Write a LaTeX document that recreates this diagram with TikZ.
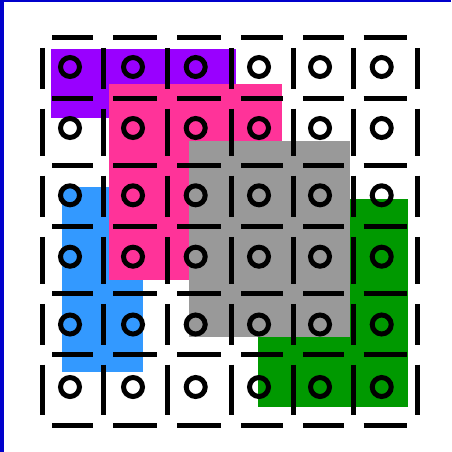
\documentclass[tikz,border=0pt]{standalone}
\definecolor{cadre}{HTML}{0000CC}
\definecolor{violette}{HTML}{9900FF}
\definecolor{rose}{HTML}{FF3399}
\definecolor{bleuclair}{HTML}{3399FF}
\definecolor{vert}{HTML}{009900}
\definecolor{gris}{HTML}{999999}
\begin{document}
\begin{tikzpicture}[
  x=1pt, y=-1pt,
  trait/.style={line width=5pt},
  rond/.style={circle, draw, line width=5pt, inner sep=0pt, minimum size=19pt},
]
\useasboundingbox (0,0) rectangle (451,452);
% le cadre (seulement a gauche et en haut)
\fill[cadre] (0,0) rectangle (4,452);
\fill[cadre] (0,0) rectangle (451,2);
% les zones de couleur, dans l'ordre
\fill[violette] (51,49) rectangle (236,118);
\fill[bleuclair] (62,186.7) rectangle (142.7,371.7);
\fill[rose] (109,84) rectangle (281.7,280);
\fill[vert] (257.7,199) rectangle (407.7,406.7);
\fill[gris] (189,140.7) rectangle (350,337.3);
% la grille en traits
\foreach \a/\b in {42/103, 103/167, 167/231, 231/293, 293/353.5, 353.5/417}
  \foreach \y in {38, 98.5, 165.7, 226.8, 293.8, 354.6, 425.3}
    \draw[trait] (\a+10,\y) -- (\b-10,\y);
\foreach \a/\b in {38/98.5, 98.5/165.7, 165.7/226.8, 226.8/293.8, 293.8/354.6, 354.6/425.3}
  \foreach \x in {42, 103, 167, 231, 293, 353.5, 417}
    \draw[trait] (\x,\a+10) -- (\x,\b-10);
% un rond par case
\foreach \x [count=\i] in {70, 133, 195.7, 259, 320, 381.7}
  \foreach \y [count=\j] in {67, 128, 195.3, 256.7, 324.5, 387}
    \node[rond] (r\i\j) at (\x,\y) {};
\end{tikzpicture}
\end{document}
